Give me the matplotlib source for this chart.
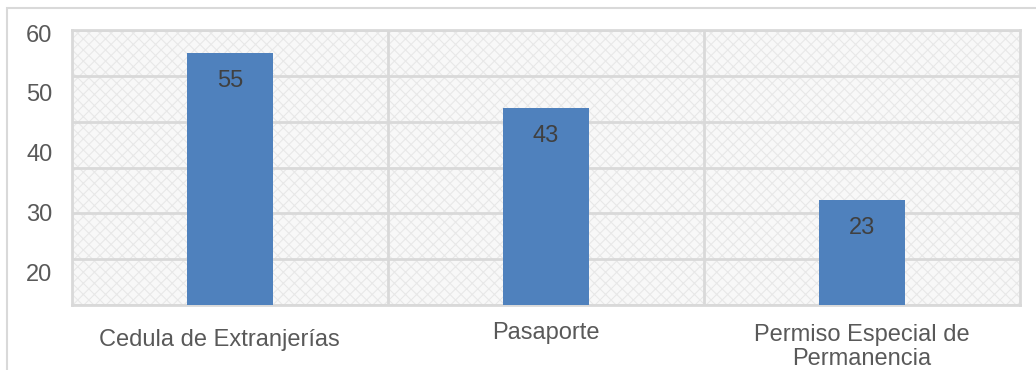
import matplotlib
matplotlib.use("Agg")
import matplotlib.pyplot as plt
from matplotlib.patches import Rectangle

plt.rcParams['font.family'] = ['Liberation Sans', 'DejaVu Sans']
plt.rcParams['hatch.linewidth'] = 0.8

categorias = ["Cedula de Extranjerías", "Pasaporte", "Permiso Especial de\nPermanencia"]
valores = [55, 43, 23]
# the original chart has its tick labels shifted against the gridlines
tick_pos = [7.0, 20.1, 33.2, 46.3, 59.3]
tick_labels = ["20", "30", "40", "50", "60"]
grid_vals = [0, 10, 20, 30, 40, 50, 60]

grey = "#595959"
line = "#d9d9d9"

fig = plt.figure(figsize=(10.36, 3.70), dpi=100)
fig.patches.append(Rectangle((7 / 1036, -0.1), 1.2, 1 - 8 / 370 + 0.1,
                             transform=fig.transFigure, fill=False,
                             edgecolor=line, lw=1.5))
ax = fig.add_axes([72 / 1036, 1 - 305 / 370, 948 / 1036, 275 / 370])

# patterned background
ax.add_patch(Rectangle((0, 0), 1, 1, transform=ax.transAxes, facecolor="#f8f8f8",
                       edgecolor="#e8e8e8", hatch="xxx", lw=0, zorder=0))

x = range(len(valores))
ax.bar(x, valores, width=0.275, color="#4f81bd", zorder=3)
for xi, v in zip(x, valores):
    ax.text(xi, v - 6.2, str(v), ha="center", va="center", fontsize=17,
            color="#404040", zorder=4)

ax.set_xlim(-0.5, len(valores) - 0.5)
ax.set_ylim(0, 60)

for g in grid_vals:
    ax.axhline(g, color=line, lw=2, zorder=1)
for b in [0.5, 1.5]:
    ax.axvline(b, color=line, lw=2, zorder=1)

ax.set_yticks(tick_pos)
ax.set_yticklabels(tick_labels, fontsize=17, color=grey)
ax.tick_params(axis="y", length=0, pad=14)
ax.set_xticks([])

label_y = [-7.6, -6.1, -9.2]
label_dx = [-0.035, 0, 0]
for xi, lab, ly, dx in zip(x, categorias, label_y, label_dx):
    ax.text(xi + dx, ly, lab, ha="center", va="center", multialignment="center",
            fontsize=17, color=grey, linespacing=1.1, clip_on=False)

for s in ["left", "bottom", "top", "right"]:
    ax.spines[s].set_color(line)
    ax.spines[s].set_linewidth(2)

fig.savefig("out.png", dpi=100)
